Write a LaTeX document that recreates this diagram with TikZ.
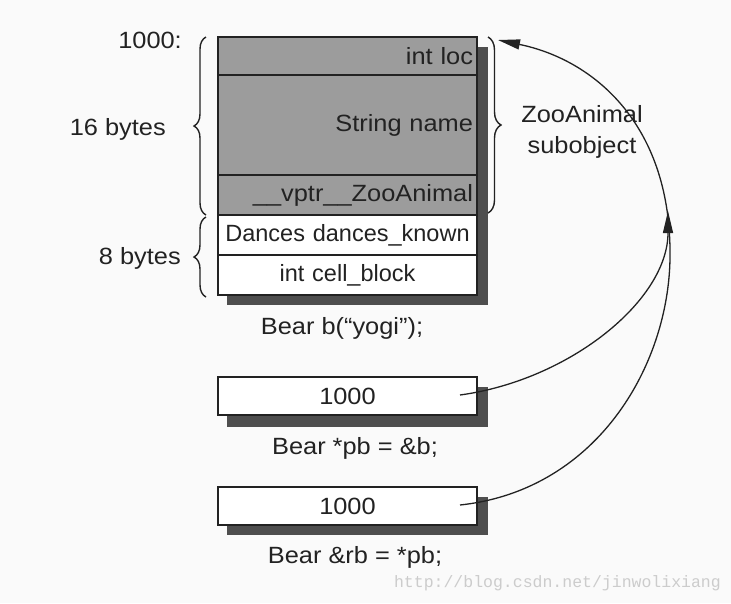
\documentclass[tikz,border=0pt]{standalone}
\usepackage{fontspec}
\setmainfont{Liberation Sans}
\newfontfamily\widefont[FakeStretch=1.08]{Liberation Sans}
\newfontfamily\wmfont{Liberation Mono}
\usetikzlibrary{decorations.pathreplacing,arrows.meta}
\definecolor{bg}{HTML}{FAFAFA}
\definecolor{cellgray}{HTML}{9C9C9C}
\definecolor{shadowc}{HTML}{4E4E4E}
\definecolor{ink}{HTML}{222222}
\definecolor{wm}{HTML}{CCCCCC}
\tikzset{
  txt/.style={font=\widefont\fontsize{23.5}{28}\selectfont, text=ink, inner sep=0pt},
  cell/.style={draw=ink, line width=2pt, minimum width=259pt, text width=251pt,
    inner xsep=4pt, inner ysep=0pt, anchor=north west, outer sep=0pt, text=ink},
  graycell/.style={cell, fill=cellgray, align=right, font=\widefont\fontsize{23.5}{28}\selectfont},
  whitecell/.style={cell, fill=white, align=center, font=\fontsize{23.5}{28}\selectfont},
  numcell/.style={whitecell, font=\widefont\fontsize{23.5}{28}\selectfont},
  shadow/.style={fill=shadowc, draw=none},
  bracestyle/.style={draw=ink, line width=1.4pt, decorate},
  ptr/.style={draw=ink, line width=1.3pt, -{Triangle[length=22pt,width=10pt]}},
}
\begin{document}
\begin{tikzpicture}[x=1pt,y=-1pt]
\useasboundingbox (0,0) rectangle (731,603);
\fill[bg] (0,0) rectangle (731,603);
% object shadow
\fill[shadow] (227,47) rectangle (488,305);
% object cells
\node[graycell, minimum height=38pt] (loc) at (218,37) {int loc};
\node[graycell, minimum height=100pt] (name) at (218,75) {String name};
\node[graycell, minimum height=40pt] (vptr) at (218,175) {\_\_vptr\_\_ZooAnimal};
\node[whitecell, minimum height=40pt] (dances) at (218,215) {Dances dances\_known};
\node[whitecell, minimum height=40pt] (cell) at (218,255) {int cell\_block};
\node[txt] (blab) at (342,328) {Bear b(“yogi”);};
% left labels and braces
\node[txt, anchor=east] (addr) at (182,40) {1000:};
\draw[bracestyle, decoration={brace, amplitude=12pt}] (206,215) -- (206,37);
\node[txt, anchor=east] (l16) at (166,129) {16 bytes};
\draw[bracestyle, decoration={brace, amplitude=12pt}] (206,297) -- (206,217);
\node[txt, anchor=east] (l8) at (181,258) {8 bytes};
% right brace
\draw[bracestyle, decoration={brace, amplitude=13pt}] (488,37) -- (488,213);
\node[txt, align=center] (sub) at (582,132) {ZooAnimal\\[3pt]subobject};
% pointer boxes
\fill[shadow] (227,387) rectangle (488,427);
\node[numcell, minimum height=38pt] (pb) at (218,377) {1000};
\node[txt] (pblab) at (355,448) {Bear *pb = \&b;};
\fill[shadow] (227,497) rectangle (488,535);
\node[numcell, minimum height=38pt] (rb) at (218,487) {1000};
\node[txt] (rblab) at (355,557) {Bear \&rb = *pb;};
% connectors
\coordinate (pbp) at (460,395);
\coordinate (rbp) at (460,505);
\coordinate (midtip) at (668,211);
\coordinate (toptip) at (498,40);
\draw[ptr] (pbp) .. controls (570,380) and (668,300) .. (midtip);
\draw[ptr] (rbp) .. controls (600,490) and (672,360) .. (670,250)
  .. controls (669,125) and (595,60) .. (toptip);
% watermark
\node[font=\wmfont\fontsize{16.5}{18}\selectfont, text=wm, anchor=east, inner sep=0pt] (wmk) at (721,583) {http://blog.csdn.net/jinwolixiang};
\end{tikzpicture}
\end{document}
